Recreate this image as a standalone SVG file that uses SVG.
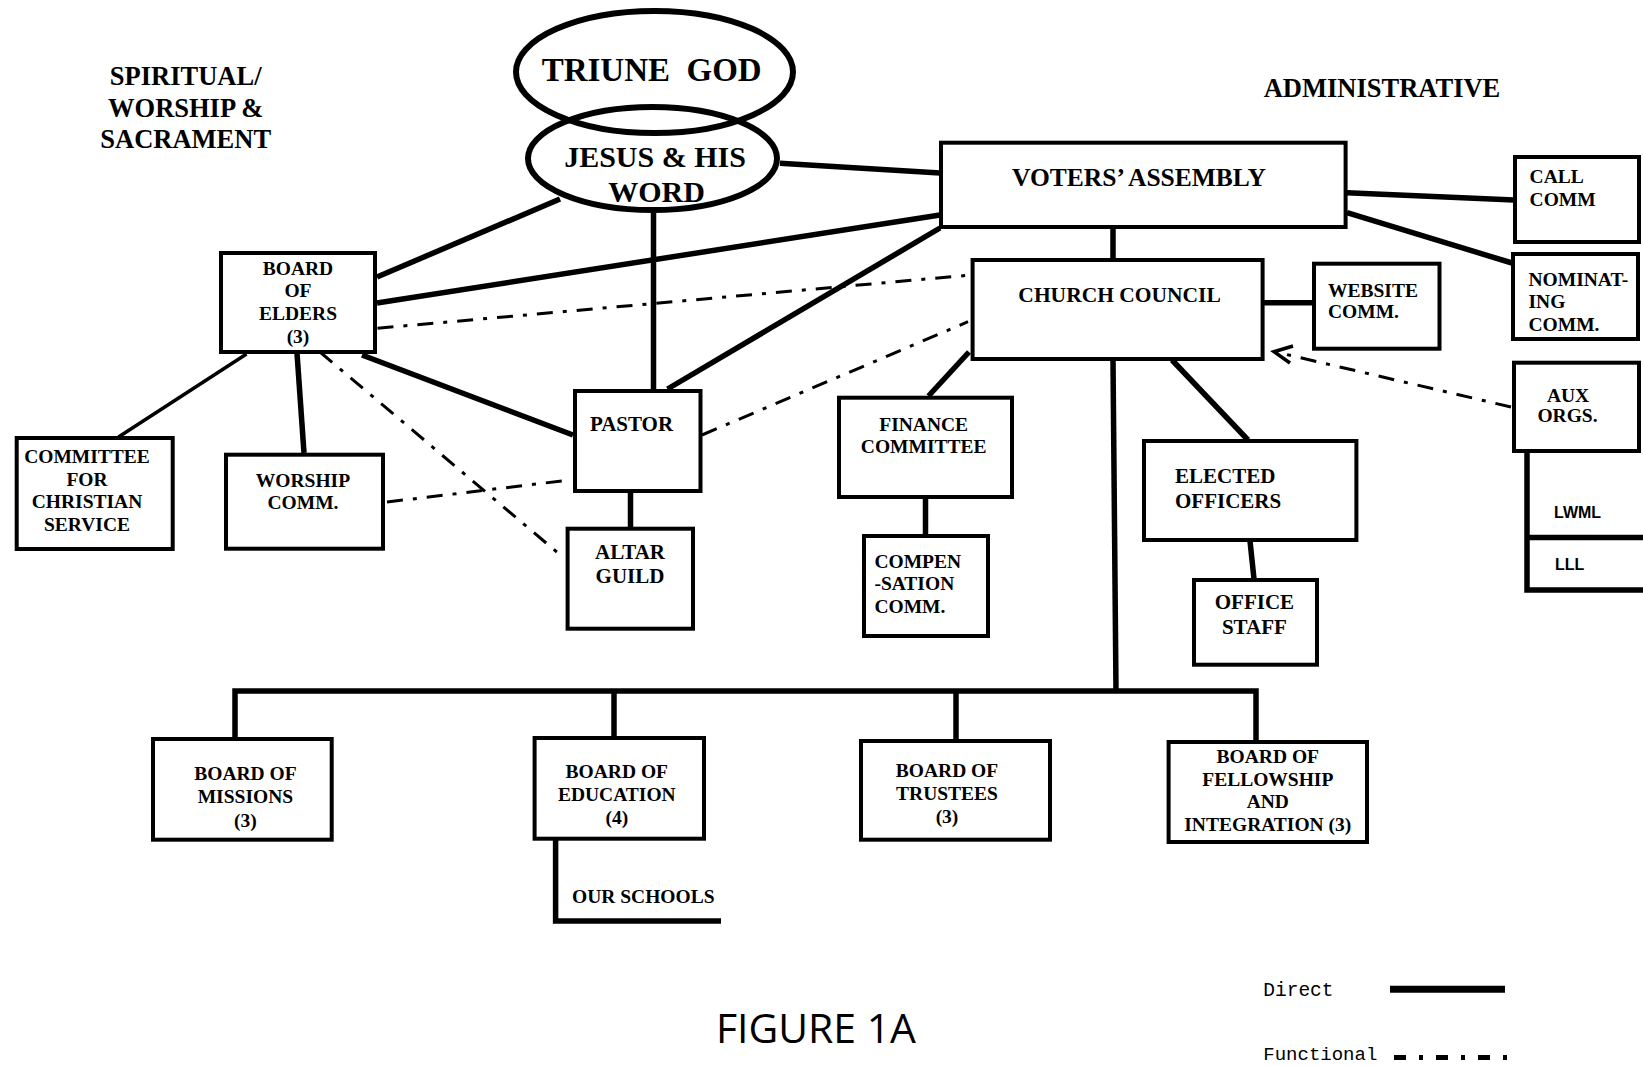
<svg xmlns="http://www.w3.org/2000/svg" width="1643" height="1066" viewBox="0 0 1643 1066">
<style>
.bg{fill:#fff}
.box{fill:#fff;stroke:#000;stroke-width:4}
.ell{fill:none;stroke:#000;stroke-width:6}
.d{stroke:#000;stroke-width:5.5;fill:none}
.dt{stroke:#000;stroke-width:3.5;fill:none}
.f{stroke:#000;stroke-width:3;fill:none;stroke-dasharray:16 10 4 10}
.t{font-family:"Liberation Serif","Times New Roman",serif;font-weight:bold;font-size:19.5px;text-anchor:middle;fill:#000}
.l{text-anchor:start}
.big{font-size:21px}
.hd{font-size:26.5px}
.s{font-family:"Liberation Sans",Arial,sans-serif;font-weight:bold;font-size:16px;fill:#000}
.m{font-family:"Liberation Mono","Courier New",monospace;font-size:19.5px;fill:#000}
</style>
<rect class="bg" x="0" y="0" width="1643" height="1066"/>

<g id="connectors">
  <!-- direct -->
  <line class="d" x1="560" y1="199" x2="377" y2="277"/>
  <line class="d" x1="653.5" y1="213" x2="653.5" y2="390"/>
  <line class="d" x1="780" y1="163.3" x2="940" y2="173"/>
  <line class="d" x1="940" y1="215" x2="377" y2="303"/>
  <line class="d" x1="940" y1="228" x2="667.5" y2="389"/>
  <line class="d" x1="362" y1="355" x2="573" y2="435"/>
  <line class="dt" x1="246.5" y1="354" x2="118.5" y2="437"/>
  <line class="d" x1="297" y1="353" x2="304" y2="453"/>
  <line class="d" x1="630.5" y1="492" x2="630.5" y2="528"/>
  <line class="d" x1="1113" y1="228" x2="1113" y2="259"/>
  <line class="d" x1="1347" y1="192.7" x2="1514" y2="200"/>
  <line class="d" x1="1347" y1="212.7" x2="1512" y2="263"/>
  <line class="d" x1="1264" y1="302.7" x2="1313" y2="302.7"/>
  <line class="d" x1="969" y1="352" x2="928.5" y2="396"/>
  <line class="d" x1="1172" y1="360" x2="1248" y2="440"/>
  <line class="d" x1="1250" y1="541" x2="1254" y2="579"/>
  <line class="d" x1="925.5" y1="498" x2="925.5" y2="535"/>
  <line class="d" x1="1113" y1="360" x2="1116" y2="691"/>
  <polyline class="d" points="235,737 235,691 1256,691 1256,741"/>
  <line class="d" x1="614" y1="691" x2="614" y2="737"/>
  <line class="d" x1="956" y1="691" x2="956" y2="741"/>
  <polyline class="d" points="555.6,840 555.6,921 721,921"/>
  <polyline class="d" points="1643,590 1527,590 1527,452"/>
  <line class="d" x1="1525" y1="537.5" x2="1643" y2="537.5"/>
  <!-- functional -->
  <line class="f" x1="377.5" y1="328.3" x2="971" y2="275"/>
  <line class="f" x1="320" y1="352" x2="558" y2="553"/>
  <line class="f" x1="387" y1="502" x2="564" y2="480.7"/>
  <line class="f" x1="702" y1="435" x2="968" y2="321.7"/>
  <line class="f" x1="1511" y1="407" x2="1278" y2="352.5"/>
  <polyline class="dt" points="1293,346 1274,351.7 1290,363"/>
</g>

<g id="header-spiritual">
  <text class="t hd" x="185.7" y="85">SPIRITUAL/</text>
  <text class="t hd" x="185.7" y="117">WORSHIP &amp;</text>
  <text class="t hd" x="185.7" y="148">SACRAMENT</text>
</g>
<g id="header-admin">
  <text class="t hd" x="1382" y="97">ADMINISTRATIVE</text>
</g>

<g id="triune-god">
  <ellipse class="ell" cx="654.5" cy="72" rx="138.5" ry="61"/>
  <text class="t" style="font-size:33px" x="651.7" y="80.7" xml:space="preserve">TRIUNE  GOD</text>
</g>
<g id="jesus-word">
  <ellipse class="ell" cx="652.5" cy="158.5" rx="124.5" ry="51.5"/>
  <text class="t" style="font-size:30px" x="655" y="166.7">JESUS &amp; HIS</text>
  <text class="t" style="font-size:30px" x="656.5" y="201.7">WORD</text>
</g>

<g id="board-of-elders">
  <rect class="box" x="221" y="253" width="154" height="99"/>
  <text class="t" x="298" y="275">BOARD</text>
  <text class="t" x="298" y="297.3">OF</text>
  <text class="t" x="298" y="320">ELDERS</text>
  <text class="t" x="298" y="342.7">(3)</text>
</g>
<g id="committee-christian-service">
  <rect class="box" x="16.7" y="438" width="156" height="111"/>
  <text class="t" x="87" y="463.3">COMMITTEE</text>
  <text class="t" x="87" y="486">FOR</text>
  <text class="t" x="87" y="508.3">CHRISTIAN</text>
  <text class="t" x="87" y="530.7">SERVICE</text>
</g>
<g id="worship-comm">
  <rect class="box" x="226" y="454.7" width="157" height="94"/>
  <text class="t" x="303" y="487.3">WORSHIP</text>
  <text class="t" x="303" y="509.3">COMM.</text>
</g>
<g id="pastor">
  <rect class="box" x="575" y="391" width="125.5" height="100"/>
  <text class="t big" x="631.5" y="431">PASTOR</text>
</g>
<g id="altar-guild">
  <rect class="box" x="567.6" y="528.7" width="125.4" height="100"/>
  <text class="t big" x="630" y="559.3">ALTAR</text>
  <text class="t big" x="630" y="583.3">GUILD</text>
</g>
<g id="voters-assembly">
  <rect class="box" x="941" y="142.7" width="404.6" height="84.3"/>
  <text class="t" style="font-size:25.5px" x="1139" y="185.7">VOTERS’ ASSEMBLY</text>
</g>
<g id="church-council">
  <rect class="box" x="972.6" y="260" width="290" height="99"/>
  <text class="t" style="font-size:21.5px" x="1119.6" y="301.7">CHURCH COUNCIL</text>
</g>
<g id="website-comm">
  <rect class="box" x="1314" y="263.7" width="125.5" height="85"/>
  <text class="t l" x="1328" y="296.7">WEBSITE</text>
  <text class="t l" x="1328" y="318.3">COMM.</text>
</g>
<g id="call-comm">
  <rect class="box" x="1515" y="157" width="124" height="85"/>
  <text class="t l" x="1529.6" y="183.3">CALL</text>
  <text class="t l" x="1529.6" y="206">COMM</text>
</g>
<g id="nominating-comm">
  <rect class="box" x="1513" y="254" width="125" height="85"/>
  <text class="t l" x="1528.5" y="286">NOMINAT-</text>
  <text class="t l" x="1528.5" y="308.3">ING</text>
  <text class="t l" x="1528.5" y="331">COMM.</text>
</g>
<g id="aux-orgs">
  <rect class="box" x="1514" y="362.7" width="125" height="88.3"/>
  <text class="t" x="1568" y="401.7">AUX</text>
  <text class="t" x="1567.5" y="421.7">ORGS.</text>
</g>
<g id="lwml">
  <text class="s" x="1554" y="518">LWML</text>
</g>
<g id="lll">
  <text class="s" x="1555" y="570">LLL</text>
</g>
<g id="finance-committee">
  <rect class="box" x="839" y="397.7" width="173" height="99.3"/>
  <text class="t" x="923.7" y="430.7">FINANCE</text>
  <text class="t" x="923.7" y="453.3">COMMITTEE</text>
</g>
<g id="compensation-comm">
  <rect class="box" x="864" y="536" width="124" height="100"/>
  <text class="t l" x="874.4" y="568.3">COMPEN</text>
  <text class="t l" x="874.4" y="590">-SATION</text>
  <text class="t l" x="874.4" y="612.7">COMM.</text>
</g>
<g id="elected-officers">
  <rect class="box" x="1144" y="441" width="212.4" height="99"/>
  <text class="t l big" x="1175" y="483.3">ELECTED</text>
  <text class="t l big" x="1175" y="508.3">OFFICERS</text>
</g>
<g id="office-staff">
  <rect class="box" x="1194" y="580" width="123" height="84.7"/>
  <text class="t big" x="1254.4" y="609.3">OFFICE</text>
  <text class="t big" x="1254.4" y="634.3">STAFF</text>
</g>
<g id="board-of-missions">
  <rect class="box" x="153" y="739" width="178.7" height="100.7"/>
  <text class="t" x="245.4" y="780">BOARD OF</text>
  <text class="t" x="245.4" y="802.7">MISSIONS</text>
  <text class="t" x="245.4" y="826.7">(3)</text>
</g>
<g id="board-of-education">
  <rect class="box" x="534.6" y="738" width="169.4" height="100.7"/>
  <text class="t" x="616.8" y="778.3">BOARD OF</text>
  <text class="t" x="616.8" y="800.7">EDUCATION</text>
  <text class="t" x="616.8" y="824">(4)</text>
</g>
<g id="our-schools">
  <text class="t l" x="572" y="903">OUR SCHOOLS</text>
</g>
<g id="board-of-trustees">
  <rect class="box" x="861" y="741" width="189" height="98.7"/>
  <text class="t" x="947" y="777.3">BOARD OF</text>
  <text class="t" x="947" y="800">TRUSTEES</text>
  <text class="t" x="947" y="823.3">(3)</text>
</g>
<g id="board-of-fellowship">
  <rect class="box" x="1168.6" y="742" width="198.4" height="100"/>
  <text class="t" x="1267.8" y="762.7">BOARD OF</text>
  <text class="t" x="1267.8" y="786">FELLOWSHIP</text>
  <text class="t" x="1267.8" y="808.3">AND</text>
  <text class="t" x="1267.8" y="830.7">INTEGRATION (3)</text>
</g>

<g id="title">
  <text x="716" y="1043.3" textLength="200" lengthAdjust="spacingAndGlyphs" style="font-family:'Open Sans','Noto Sans',sans-serif;font-size:41px;fill:#000">FIGURE 1A</text>
</g>
<g id="legend">
  <text class="m" x="1263.3" y="996">Direct</text>
  <line x1="1390" y1="989.3" x2="1505" y2="989.3" stroke="#000" stroke-width="7"/>
  <text class="m" style="font-size:19px" x="1263.3" y="1060">Functional</text>
  <line x1="1394" y1="1057.5" x2="1508" y2="1057.5" stroke="#000" stroke-width="5" stroke-dasharray="12 13 4 13"/>
</g>
</svg>
